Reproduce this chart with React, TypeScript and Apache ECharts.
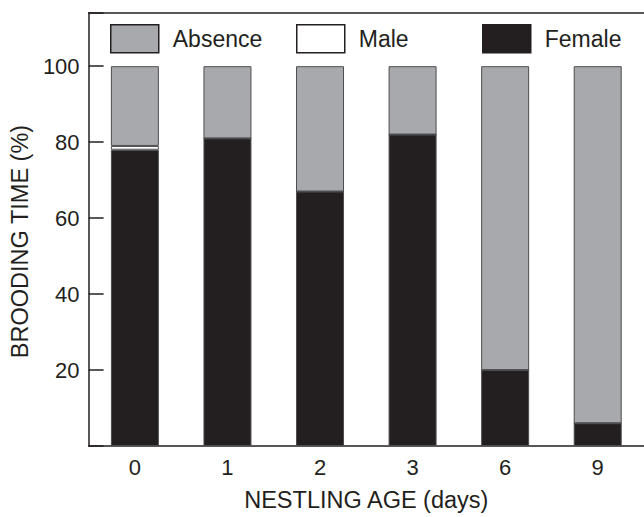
import React, { useEffect, useRef } from "react";
import * as echarts from "echarts";

const categories = ["0", "1", "2", "3", "6", "9"];
const female = [78, 81, 67, 82, 20, 6];
const male = [1, 0, 0, 0, 0, 0];
const absence = [21, 19, 33, 18, 80, 94];
const yTickLabels = [20, 40, 60, 80, 100];

const INK = "#231f20";
const FONT = "'Liberation Sans', Arial, sans-serif";

export default function App() {
  const ref = useRef<HTMLDivElement>(null);
  useEffect(() => {
    if (!ref.current) return;
    const chart = echarts.init(ref.current, undefined, { renderer: "svg" });
    const barBorder = { borderColor: "#4d4d4f", borderWidth: 1 };
    const legendBase = {
      top: 24,
      padding: 0,
      itemWidth: 48,
      itemHeight: 28,
      icon: "rect",
      selectedMode: false,
      textStyle: { fontFamily: FONT, fontSize: 23, color: INK, padding: [0, 0, 0, 9] },
    };
    chart.setOption({
      animation: false,
      backgroundColor: "#ffffff",
      grid: { left: 88, right: 0, top: 13, bottom: 63 },
      legend: [
        { ...legendBase, left: 110, data: ["Absence"], itemStyle: { borderColor: INK, borderWidth: 1.5 } },
        { ...legendBase, left: 296, data: ["Male"], itemStyle: { borderColor: INK, borderWidth: 1.5 } },
        { ...legendBase, left: 482, data: ["Female"], itemStyle: { borderColor: INK, borderWidth: 1.5 } },
      ],
      xAxis: [
        {
          type: "category",
          data: categories,
          position: "bottom",
          axisLine: { lineStyle: { color: INK, width: 1.5 } },
          axisTick: { show: false },
          axisLabel: { fontFamily: FONT, fontSize: 22, color: INK, margin: 10 },
          name: "NESTLING AGE (days)",
          nameLocation: "middle",
          nameGap: 42,
          nameTextStyle: { fontFamily: FONT, fontSize: 23.5, color: INK },
        },
        {
          type: "category",
          data: categories,
          position: "top",
          axisLine: { lineStyle: { color: INK, width: 1.5 } },
          axisTick: { show: false },
          axisLabel: { show: false },
        },
      ],
      yAxis: {
        type: "value",
        min: 0,
        max: 114,
        interval: 20,
        axisLine: { show: true, lineStyle: { color: INK, width: 1.5 } },
        axisTick: {
          show: true,
          inside: true,
          length: 15,
          lineStyle: { color: INK, width: 1.5 },
        },
        splitLine: { show: false },
        axisLabel: {
          fontFamily: FONT,
          fontSize: 22,
          color: INK,
          margin: 9,
          formatter: (v: number) => (yTickLabels.indexOf(v) >= 0 ? String(v) : ""),
        },
        name: "BROODING TIME (%)",
        nameLocation: "middle",
        nameGap: 52,
        nameTextStyle: { fontFamily: FONT, fontSize: 23.5, color: INK, padding: [0, 24, 0, 0] },
      },
      series: [
        {
          name: "Female",
          type: "bar",
          stack: "t",
          barWidth: 48,
          data: female,
          itemStyle: { color: INK, ...barBorder },
        },
        {
          name: "Male",
          type: "bar",
          stack: "t",
          barWidth: 48,
          data: male,
          itemStyle: { color: "#ffffff", ...barBorder },
        },
        {
          name: "Absence",
          type: "bar",
          stack: "t",
          barWidth: 48,
          data: absence,
          itemStyle: { color: "#a7a9ac", ...barBorder },
        },
      ],
    });
    return () => chart.dispose();
  }, []);
  return (
    <div
      ref={ref}
      style={{ position: "fixed", left: 0, top: 0, width: 644, height: 517 }}
    />
  );
}
